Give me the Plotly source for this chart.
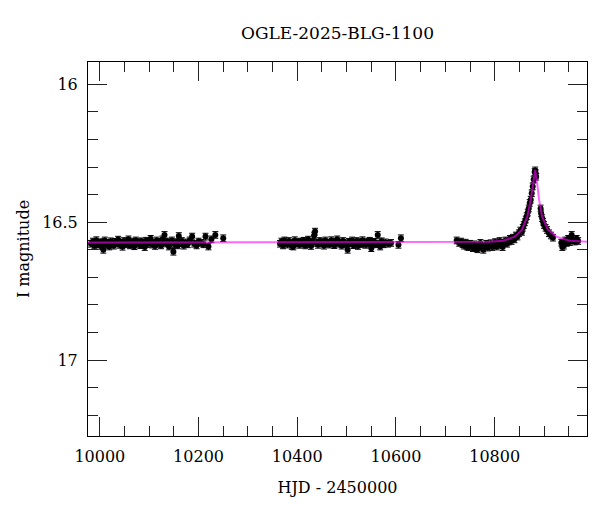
import plotly.graph_objects as go

# ---- data ----
t1 = [9982, 9986, 9989, 9993, 9996, 9999, 10002, 10005, 10007, 10010,
      10013, 10016, 10019, 10022, 10025, 10028, 10031, 10034, 10037, 10040,
      10043, 10046, 10049, 10052, 10055, 10058, 10061, 10064, 10067, 10070,
      10073, 10076, 10079, 10082, 10085, 10088, 10091, 10094, 10097, 10100,
      10103, 10106, 10109, 10112, 10115, 10118, 10121, 10124, 10127, 10131,
      10134, 10137, 10140, 10143, 10146, 10149, 10152, 10155, 10158, 10160,
      10163, 10166, 10170, 10174, 10178, 10182, 10187, 10191, 10196, 10200,
      10205, 10210, 10214, 10220, 10226, 10234, 10250]
m1 = [16.578, 16.570, 16.584, 16.565, 16.580, 16.574, 16.586, 16.572, 16.600, 16.566,
      16.582, 16.575, 16.588, 16.569, 16.579, 16.585, 16.571, 16.577, 16.563, 16.582,
      16.574, 16.589, 16.568, 16.580, 16.573, 16.562, 16.584, 16.576, 16.570, 16.587,
      16.566, 16.578, 16.572, 16.583, 16.569, 16.576, 16.590, 16.567, 16.579, 16.573,
      16.560, 16.581, 16.575, 16.586, 16.566, 16.578, 16.571, 16.584, 16.562, 16.546,
      16.577, 16.570, 16.588, 16.574, 16.566, 16.607, 16.580, 16.572, 16.584, 16.550,
      16.576, 16.568, 16.585, 16.573, 16.580, 16.566, 16.552, 16.578, 16.584, 16.570,
      16.575, 16.580, 16.552, 16.588, 16.562, 16.546, 16.558]

t2 = [10365, 10368, 10371, 10374, 10377, 10380, 10383, 10386, 10389, 10392,
      10395, 10398, 10401, 10404, 10407, 10410, 10413, 10416, 10419, 10422,
      10425, 10428, 10431, 10434, 10436, 10439, 10442, 10445, 10448, 10451,
      10454, 10457, 10460, 10463, 10466, 10469, 10472, 10475, 10478, 10481,
      10484, 10487, 10490, 10493, 10496, 10499, 10502, 10505, 10508, 10511,
      10514, 10517, 10520, 10523, 10526, 10529, 10532, 10535, 10538, 10541,
      10544, 10547, 10550, 10553, 10556, 10559, 10563, 10566, 10568, 10571,
      10575, 10579, 10584, 10590, 10605, 10610]
m2 = [16.578, 16.570, 16.584, 16.566, 16.576, 16.581, 16.568, 16.574, 16.586, 16.588,
      16.565, 16.577, 16.572, 16.582, 16.570, 16.578, 16.567, 16.584, 16.574, 16.563,
      16.579, 16.586, 16.570, 16.548, 16.534, 16.575, 16.582, 16.568, 16.577, 16.572,
      16.585, 16.566, 16.578, 16.574, 16.581, 16.565, 16.576, 16.583, 16.570, 16.562,
      16.578, 16.573, 16.585, 16.568, 16.576, 16.580, 16.600, 16.571, 16.577, 16.566,
      16.583, 16.574, 16.568, 16.586, 16.572, 16.579, 16.565, 16.576, 16.582, 16.570,
      16.578, 16.567, 16.594, 16.575, 16.571, 16.580, 16.546, 16.577, 16.588, 16.569,
      16.580, 16.573, 16.578, 16.575, 16.582, 16.558]

t3 = [10723, 10728, 10732, 10735, 10738, 10741, 10744, 10747, 10750, 10753,
      10756, 10759, 10762, 10765, 10768, 10771, 10774, 10777, 10780, 10783,
      10786, 10789, 10792, 10795, 10798, 10801, 10804, 10807, 10810, 10813,
      10816, 10819, 10822, 10825, 10828, 10831, 10834, 10837, 10840, 10843,
      10846, 10849, 10852, 10855, 10857, 10859, 10861, 10863, 10865, 10867,
      10869, 10871, 10873, 10875, 10877, 10879, 10881, 10882, 10883, 10884,
      10893, 10894, 10896, 10898, 10900, 10903, 10906, 10910, 10914, 10918,
      10935, 10937, 10940, 10943, 10946, 10949, 10952, 10956, 10959, 10962,
      10966, 10969]
m3 = [16.566, 16.575, 16.570, 16.580, 16.585, 16.574, 16.588, 16.590, 16.578, 16.585,
      16.594, 16.580, 16.590, 16.598, 16.584, 16.575, 16.592, 16.600, 16.586, 16.578,
      16.592, 16.584, 16.576, 16.590, 16.582, 16.572, 16.588, 16.578, 16.568, 16.582,
      16.590, 16.574, 16.566, 16.578, 16.570, 16.560, 16.568, 16.556, 16.562, 16.548,
      16.552, 16.540, 16.530, 16.535, 16.520, 16.510, 16.500, 16.490, 16.478, 16.465,
      16.450, 16.430, 16.418, 16.395, 16.370, 16.345, 16.318, 16.312, 16.322, 16.335,
      16.450, 16.468, 16.485, 16.498, 16.510, 16.520, 16.528, 16.540, 16.548, 16.556,
      16.574, 16.590, 16.585, 16.566, 16.575, 16.560, 16.572, 16.546, 16.565, 16.570,
      16.560, 16.568]

err_mag = 0.012

model_t = [9976, 10700, 10790, 10817, 10841, 10855, 10866, 10873, 10878, 10882,
           10886, 10890, 10896, 10908, 10925, 10952, 10987]
model_m = [16.573, 16.573, 16.571, 16.567, 16.552, 16.528, 16.480, 16.419, 16.359, 16.310,
           16.359, 16.419, 16.480, 16.528, 16.552, 16.567, 16.571]

title_text = "OGLE-2025-BLG-1100"
x_label = "HJD - 2450000"
y_label = "I magnitude"

FONT = "DejaVu Serif"

fig = go.Figure()
for tt, mm in [(t1, m1), (t2, m2), (t3, m3)]:
    fig.add_trace(go.Scatter(
        x=tt, y=mm, mode="markers",
        marker=dict(color="black", size=6),
        error_y=dict(type="constant", value=err_mag, color="black", thickness=1, width=3),
        showlegend=False, hoverinfo="skip"))

fig.add_trace(go.Scatter(
    x=model_t, y=model_m, mode="lines",
    line=dict(color="rgba(255,0,255,0.6)", width=2),
    showlegend=False, hoverinfo="skip"))

axis_common = dict(
    showgrid=False, zeroline=False, showline=True, linecolor="black", linewidth=1,
    mirror="allticks", ticks="inside", ticklen=19, tickwidth=1, tickcolor="#222",
    tickfont=dict(family=FONT, size=16, color="black"), automargin=False,
)

fig.update_xaxes(
    range=[9976, 10987], tick0=10000, dtick=200, tickformat="d",
    minor=dict(ticks="inside", ticklen=10, dtick=50, tick0=10000, tickcolor="#222", tickwidth=1),
    title=dict(text=x_label, font=dict(family=FONT, size=16, color="black"), standoff=16),
    ticklabelstandoff=6,
    **axis_common)
fig.update_yaxes(
    range=[17.275, 15.919], tick0=16, dtick=0.5,
    minor=dict(ticks="inside", ticklen=10, dtick=0.1, tick0=16, tickcolor="#222", tickwidth=1),
    title=dict(text=y_label, font=dict(family=FONT, size=16, color="black"), standoff=8),
    ticklabelstandoff=6,
    **axis_common)

fig.update_layout(
    width=600, height=512,
    margin=dict(l=88, r=13, t=62, b=76),
    paper_bgcolor="white", plot_bgcolor="white",
    title=dict(text=title_text, x=0.5625, xanchor="center", y=0.935, yanchor="middle",
               font=dict(family=FONT, size=17, color="black")),
)

fig.write_html("out.html", config={"displayModeBar": False},
               post_script="document.body.style.margin='0';")
